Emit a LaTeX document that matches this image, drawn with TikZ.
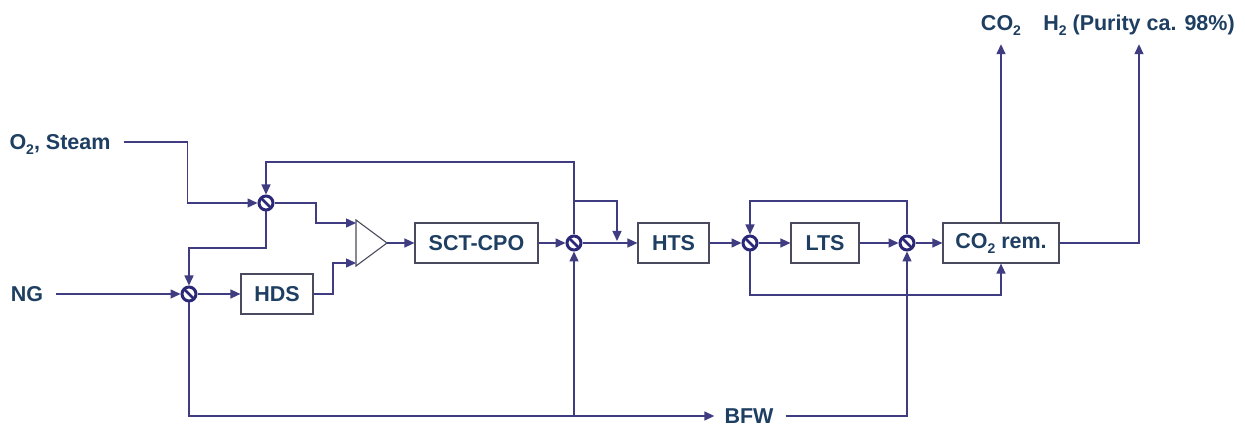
\documentclass[tikz,border=0pt]{standalone}
\usepackage{fontspec}
\setmainfont{Liberation Sans}
\usetikzlibrary{arrows.meta,calc}
\definecolor{txt}{HTML}{1E3F62}
\definecolor{ln}{HTML}{3F3C82}
\definecolor{vl}{HTML}{2C2878}
\definecolor{bx}{HTML}{4A4A5E}
\newcommand{\sbs}[1]{\raisebox{-5pt}{\fontsize{14}{14}\selectfont #1}}
\begin{document}
\begin{tikzpicture}[x=1pt,y=-1pt,
  unit/.style={draw=bx, line width=1.2pt, fill=white, text=txt,
    font=\fontsize{21.5}{24}\selectfont\bfseries, inner sep=0pt, minimum height=40pt},
  valve/.style={circle, draw=vl, line width=3pt, minimum size=14pt, inner sep=0pt,
    path picture={\draw[vl, line width=2.8pt] (path picture bounding box.north west) -- (path picture bounding box.south east);}},
  lbl/.style={text=txt, font=\fontsize{21.5}{24}\selectfont\bfseries, inner sep=0pt,
    text height=15pt, text depth=0pt},
  flow/.style={draw=ln, line width=1.4pt, -{Triangle[length=10pt,width=9pt]}},
]
\useasboundingbox[fill=white] (0,0) rectangle (1245,427);

% helper coordinates
\coordinate (ytop) at (0,162);
\coordinate (ymid) at (0,201);
\coordinate (y248) at (0,248);
\coordinate (ylow) at (0,295);
\coordinate (mixa) at (356,223);
\coordinate (mixb) at (356,263);
\coordinate (mixo) at (387,243);
\coordinate (b3) at (617,243);

% units
\node[unit, minimum width=72pt] (hds) at (277,294) {HDS};
\node[unit, minimum width=123pt] (sct) at (476.5,243) {SCT-CPO};
\node[unit, minimum width=71pt] (hts) at (673.5,243) {HTS};
\node[unit, minimum width=68pt] (lts) at (825,243) {LTS};
\node[unit, minimum width=116pt] (rem) at (1001,243) {CO\sbs{2} rem.};

% mixer
\draw[bx, line width=1.1pt] (356,220) -- (mixo) -- (356,266) -- cycle;

% valves
\node[valve] (v1) at (266,203) {};
\node[valve] (v2) at (189,294) {};
\node[valve] (v3) at (574,243) {};
\node[valve] (v4) at (750,243) {};
\node[valve] (v5) at (907,243) {};

% labels
\node[lbl] (o2) at (60,142) {O\sbs{2}, Steam};
\node[lbl] (ng) at (27,294) {NG};
\node[lbl] (co2) at (1001,23) {CO\sbs{2}};
\node[lbl] (h2) at (1139,23) {H\sbs{2} (Purity ca. 98\%)};
\node[lbl] (bfw) at (749,416) {BFW};

% connectors
\draw[flow, shorten <=13pt] (o2.east) -| ([xshift=-70pt]v1.west) -- (v1.west);
\draw[flow, shorten <=13pt] (ng.east) -- (v2.west);
\draw[flow] (v3.north) |- (v1 |- ytop) -- (v1.north);
\draw[flow, shorten >=2pt] (v3 |- ymid) -| (b3);
\draw[flow] (v1.south) |- (v2 |- y248) -- (v2.north);
\draw[flow] (v1.east) -| ($(mixa)+(-40,0)$) -- (mixa);
\draw[flow] (v2.east) -- (hds.west);
\draw[flow] (hds.east) -| ($(mixb)+(-23,0)$) -- (mixb);
\draw[flow] (mixo) -- (sct.west);
\draw[flow] (sct.east) -- (v3.west);
\draw[flow] (v3.east) -- (hts.west);
\draw[flow] (hts.east) -- (v4.west);
\draw[flow] (v4.east) -- (lts.west);
\draw[flow] (lts.east) -- (v5.west);
\draw[flow] (v5.east) -- (rem.west);
\draw[flow] (v5.north) |- (v4 |- ymid) -- (v4.north);
\draw[flow] (v4.south) |- (rem |- ylow) -- (rem.south);
\draw[flow, shorten >=13.5pt] (rem.north) -- (co2.south);
\draw[flow, shorten >=13.5pt] (rem.east) -| (h2.south);
\draw[flow, shorten >=10pt] (v2.south) |- (bfw.west);
\draw[flow, shorten <=12pt] (bfw.east) -| (v5.south);
\draw[flow] (v3 |- bfw) -- (v3.south);
\end{tikzpicture}
\end{document}
